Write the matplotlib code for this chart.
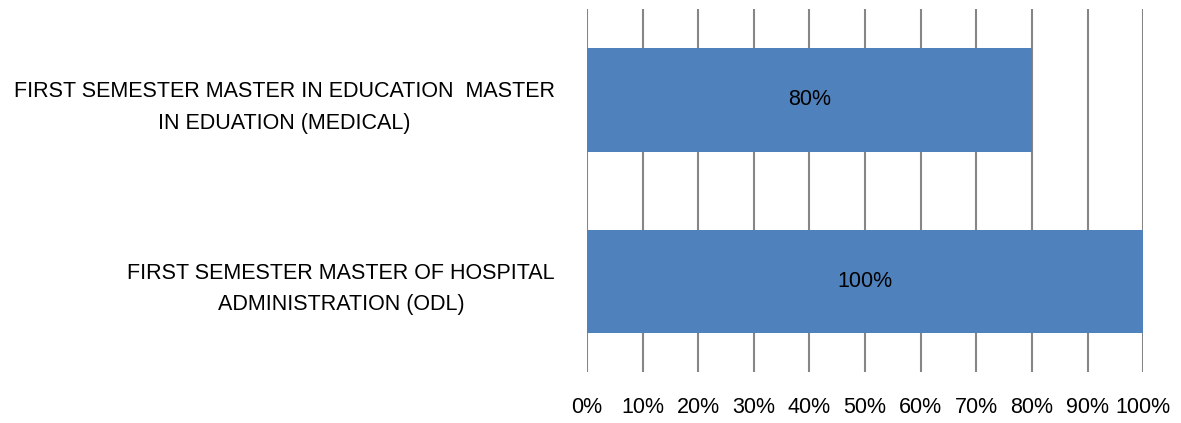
import matplotlib.pyplot as plt
import numpy as np

categories = ["FIRST SEMESTER MASTER IN EDUCATION  MASTER\nIN EDUATION (MEDICAL)",
              "FIRST SEMESTER MASTER OF HOSPITAL\nADMINISTRATION (ODL)"]
values = [80, 100]
ticks = [0, 10, 20, 30, 40, 50, 60, 70, 80, 90, 100]

plt.rcParams['font.family'] = ['Liberation Sans', 'DejaVu Sans']

fig = plt.figure(figsize=(11.81, 4.23), dpi=100)
ax = fig.add_axes([0.497, 0.121, 0.471, 0.857])

y = np.arange(len(categories))
bars = ax.barh(y, values, height=0.57, color="#4F81BD", zorder=3)
for b, v in zip(bars, values):
    ax.text(v / 2, b.get_y() + b.get_height() / 2, f"{v}%",
            ha="center", va="center", fontsize=15.5, color="black", zorder=4)

ax.set_ylim(len(categories) - 0.5, -0.5)
ax.set_xlim(0, 100)
ax.set_xticks(ticks)
ax.set_xticklabels([f"{t}%" for t in ticks], fontsize=15.5)
ax.set_yticks(y)
ax.set_yticklabels(categories, fontsize=15.5, ha="right", multialignment="center",
                   linespacing=1.65)
ax.tick_params(axis="y", length=0, pad=23)
ax.tick_params(axis="x", length=0, pad=18)
ax.grid(axis="x", color="#868686", linewidth=1.5, zorder=0)
for s in ax.spines.values():
    s.set_visible(False)

fig.savefig("out.png", dpi=100)
